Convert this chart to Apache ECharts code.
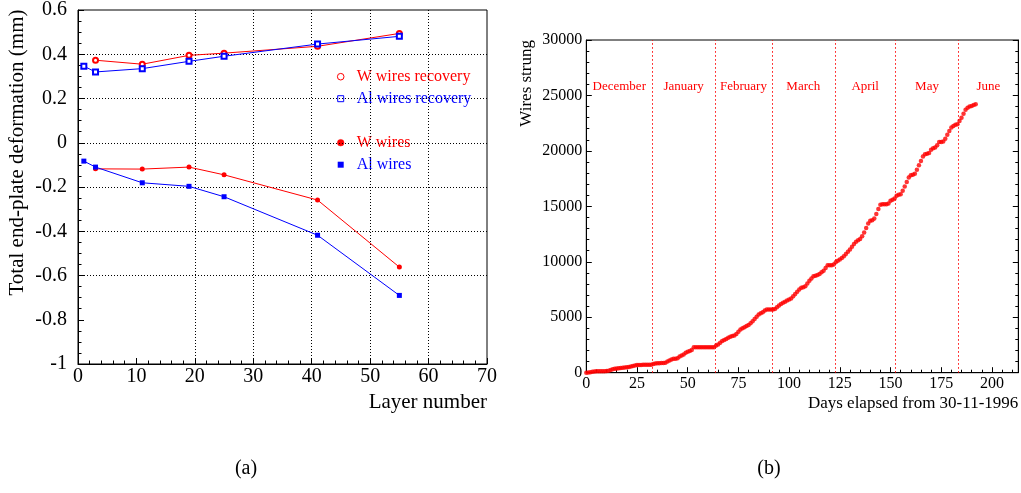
<!DOCTYPE html>
<html>
<head>
<meta charset="utf-8">
<script src="https://cdn.jsdelivr.net/npm/echarts@6/dist/echarts.min.js"></script>
<style>
html,body{margin:0;padding:0;background:#fff;}
#c{width:1021px;height:493px;}
</style>
</head>
<body>
<div id="c"></div>
<script>
// ---------- Panel (a) data ----------
const layersW = [3, 11, 19, 25, 41, 55];
const layersAl = [1, 3, 11, 19, 25, 41, 55];
const wRecovery = [0.373, 0.355, 0.395, 0.405, 0.436, 0.494];
const alRecovery = [0.346, 0.320, 0.335, 0.368, 0.391, 0.446, 0.481];
const wWires = [-0.118, -0.119, -0.110, -0.145, -0.259, -0.562];
const alWires = [-0.083, -0.110, -0.181, -0.197, -0.244, -0.418, -0.690];
const legendNames = ['W wires recovery', 'Al wires recovery', 'W wires', 'Al wires'];

// ---------- Panel (b) data ----------
// cumulative wires strung, one value per day elapsed (day = index)
const wiresStrung = [
  0, 20, 50, 80, 100, 120, 130, 130, 130, 140,
  150, 180, 250, 300, 350, 380, 400, 420, 450, 480,
  500, 520, 560, 600, 650, 700, 700, 700, 710, 720,
  720, 720, 720, 780, 820, 850, 860, 870, 880, 900,
  1000, 1100, 1200, 1250, 1250, 1300, 1450, 1550, 1650, 1800,
  1900, 1950, 2050, 2300, 2300, 2300, 2300, 2300, 2300, 2300,
  2300, 2300, 2300, 2300, 2450, 2550, 2700, 2850, 2950, 3050,
  3150, 3250, 3300, 3350, 3500, 3700, 3900, 4000, 4100, 4200,
  4300, 4450, 4650, 4850, 5050, 5250, 5350, 5450, 5600, 5700,
  5700, 5700, 5700, 5750, 5900, 6050, 6200, 6300, 6400, 6500,
  6600, 6700, 6900, 7100, 7300, 7500, 7650, 7700, 7800, 8050,
  8300, 8500, 8700, 8750, 8800, 8900, 9050, 9200, 9450, 9700,
  9700, 9700, 9750, 9950, 10100, 10200, 10350, 10500, 10700, 10900,
  11100, 11350, 11600, 11800, 11950, 12050, 12300, 12650, 13050, 13450,
  13700, 13750, 13900, 14300, 14750, 15150, 15200, 15200, 15200, 15250,
  15500, 15600, 15700, 15950, 16050, 16100, 16400, 16800, 17200, 17600,
  17800, 17850, 17950, 18300, 18700, 19100, 19500, 19700, 19750, 19800,
  20100, 20250, 20300, 20500, 20800, 20800, 20850, 21100, 21450, 21800,
  22100, 22250, 22350, 22400, 22700, 23000, 23350, 23700, 23900, 24000,
  24050, 24150, 24200
];
const monthNames = ['December', 'January', 'February', 'March', 'April', 'May', 'June'];
const monthBounds = [0, 32.5, 63.5, 91.5, 122.5, 152.5, 183.5, 213];

const FONT = "'Liberation Serif', 'DejaVu Serif', serif";
const RED = '#ff0000';
const BLUE = '#0000ff';
const NONE = 'rgba(0,0,0,0)';

const zip = (xs, ys) => xs.map((x, i) => [x, ys[i]]);

function axisCommon(fs) {
  return {
    axisLine: { show: true, onZero: false, lineStyle: { color: '#000', width: 1 } },
    axisTick: { show: true, inside: true, length: 6, lineStyle: { color: '#000', width: 1 } },
    minorTick: { show: true, length: 3.5, lineStyle: { color: '#000', width: 1 } },
    axisLabel: { color: '#000', fontFamily: FONT, fontSize: fs }
  };
}

// dotted grid lines, hiding the first and last (they sit on the frame)
function gridDots(n) {
  const cols = [];
  for (let i = 0; i < n; i++) cols.push(i === 0 || i === n - 1 ? NONE : '#000');
  return { show: true, showMinLine: false, showMaxLine: false, lineStyle: { type: [1, 2], color: cols, width: 1 } };
}

const chart = echarts.init(document.getElementById('c'), null, { renderer: 'canvas' });

const gx0 = 78, gy0 = 9.5, gw0 = 409, gh0 = 354.5;
const gx1 = 586.3, gy1 = 40, gw1 = 432, gh1 = 332.7;

function lineSeries(name, xs, ys, color, symbol, size) {
  return {
    name: name, type: 'line', xAxisIndex: 0, yAxisIndex: 0,
    data: zip(xs, ys), symbol: symbol, symbolSize: size,
    itemStyle: { color: color, borderWidth: 1 },
    lineStyle: { color: color, width: 1 },
    animation: false
  };
}

const option = {
  animation: false,
  backgroundColor: '#fff',
  grid: [
    { left: gx0, top: gy0, width: gw0, height: gh0, show: true, borderColor: '#000', borderWidth: 1, backgroundColor: 'transparent', containLabel: false },
    { left: gx1, top: gy1, width: gw1, height: gh1, show: true, borderColor: '#000', borderWidth: 1, backgroundColor: 'transparent', containLabel: false }
  ],
  xAxis: [
    Object.assign(axisCommon(20), {
      type: 'value', gridIndex: 0, min: 0, max: 70, interval: 10,
      splitLine: gridDots(8),
      minorTick: { show: true, splitNumber: 5, length: 3.5, lineStyle: { color: '#000' } },
      axisLabel: { color: '#000', fontFamily: FONT, fontSize: 20, margin: 3 }
    }),
    Object.assign(axisCommon(16), {
      type: 'value', gridIndex: 1, min: 0, max: 213, interval: 25,
      splitLine: { show: false },
      minorTick: { show: true, splitNumber: 5, length: 3, lineStyle: { color: '#000' } },
      axisTick: { show: true, inside: true, length: 5.5, lineStyle: { color: '#000' } },
      axisLabel: { color: '#000', fontFamily: FONT, fontSize: 16, margin: 3, showMaxLabel: false }
    })
  ],
  yAxis: [
    Object.assign(axisCommon(20), {
      type: 'value', gridIndex: 0, min: -1, max: 0.6, interval: 0.2,
      splitLine: gridDots(9),
      minorTick: { show: true, splitNumber: 4, length: 3.5, lineStyle: { color: '#000' } },
      axisLabel: { color: '#000', fontFamily: FONT, fontSize: 20, margin: 11 }
    }),
    Object.assign(axisCommon(16), {
      type: 'value', gridIndex: 1, min: 0, max: 30000, interval: 5000,
      splitLine: { show: false },
      minorTick: { show: true, splitNumber: 5, length: 3, lineStyle: { color: '#000' } },
      axisTick: { show: true, inside: true, length: 5.5, lineStyle: { color: '#000' } },
      axisLabel: { color: '#000', fontFamily: FONT, fontSize: 16, margin: 4, formatter: v => String(v) }
    }),
    Object.assign(axisCommon(16), {
      type: 'value', gridIndex: 1, position: 'right', min: 0, max: 30000, interval: 5000,
      splitLine: { show: false },
      minorTick: { show: true, splitNumber: 5, length: 3, lineStyle: { color: '#000' } },
      axisTick: { show: true, inside: true, length: 5.5, lineStyle: { color: '#000' } },
      axisLabel: { show: false }
    })
  ],
  series: [
    lineSeries(legendNames[0], layersW, wRecovery, RED, 'emptyCircle', 5),
    lineSeries(legendNames[1], layersAl, alRecovery, BLUE, 'emptyRect', 5),
    lineSeries(legendNames[2], layersW, wWires, RED, 'circle', 5),
    lineSeries(legendNames[3], layersAl, alWires, BLUE, 'rect', 5),
    {
      name: 'Wires strung', type: 'scatter', xAxisIndex: 1, yAxisIndex: 1,
      data: wiresStrung.map((v, d) => [d, v]),
      symbol: 'circle', symbolSize: 4.5,
      itemStyle: { color: RED },
      animation: false,
      markLine: {
        silent: true, symbol: ['none', 'none'], animation: false,
        label: { show: false },
        lineStyle: { color: RED, type: [1.5, 2.5], width: 1 },
        data: monthBounds.slice(1, -1).map(b => ({ xAxis: b }))
      },
      markArea: {
        silent: true, animation: false,
        itemStyle: { color: NONE },
        label: { show: true, position: 'insideTop', distance: 40, color: RED, fontFamily: FONT, fontSize: 13 },
        data: monthNames.map((m, i) => [
          { name: m, xAxis: monthBounds[i], yAxis: 0 },
          { xAxis: monthBounds[i + 1], yAxis: 30000 }
        ])
      }
    }
  ],
  graphic: [
    // panel (a) axis titles
    { type: 'text', x: 17, y: 9.5, rotation: Math.PI / 2,
      style: { text: 'Total end-plate deformation (mm)', fill: '#000', font: '21px ' + FONT, align: 'right', verticalAlign: 'middle' } },
    { type: 'text', x: 487, y: 402,
      style: { text: 'Layer number', fill: '#000', font: '21px ' + FONT, align: 'right', verticalAlign: 'middle' } },
    // panel (a) legend
    { type: 'circle', shape: { cx: 340.7, cy: 76.7, r: 3.3 }, style: { fill: 'none', stroke: RED, lineWidth: 1 } },
    { type: 'text', x: 356.7, y: 76.7, style: { text: legendNames[0], fill: RED, font: '16px ' + FONT, align: 'left', verticalAlign: 'middle' } },
    { type: 'rect', shape: { x: 337.7, y: 95.7, width: 6, height: 6 }, style: { fill: 'none', stroke: BLUE, lineWidth: 1 } },
    { type: 'text', x: 356.7, y: 98.7, style: { text: legendNames[1], fill: BLUE, font: '16px ' + FONT, align: 'left', verticalAlign: 'middle' } },
    { type: 'circle', shape: { cx: 340.7, cy: 142.7, r: 3.3 }, style: { fill: RED, stroke: RED, lineWidth: 0.5 } },
    { type: 'text', x: 356.7, y: 142.7, style: { text: legendNames[2], fill: RED, font: '16px ' + FONT, align: 'left', verticalAlign: 'middle' } },
    { type: 'rect', shape: { x: 337.7, y: 161.7, width: 6, height: 6 }, style: { fill: BLUE } },
    { type: 'text', x: 356.7, y: 164.7, style: { text: legendNames[3], fill: BLUE, font: '16px ' + FONT, align: 'left', verticalAlign: 'middle' } },
    // panel (b) axis titles
    { type: 'text', x: 526.5, y: 40, rotation: Math.PI / 2,
      style: { text: 'Wires strung', fill: '#000', font: '17px ' + FONT, align: 'right', verticalAlign: 'middle' } },
    { type: 'text', x: 1018.3, y: 403.5,
      style: { text: 'Days elapsed from 30-11-1996', fill: '#000', font: '17px ' + FONT, align: 'right', verticalAlign: 'middle' } },
    // panel captions
    { type: 'text', x: 246, y: 469, style: { text: '(a)', fill: '#000', font: '20px ' + FONT, align: 'center', verticalAlign: 'middle' } },
    { type: 'text', x: 769, y: 469, style: { text: '(b)', fill: '#000', font: '20px ' + FONT, align: 'center', verticalAlign: 'middle' } }
  ]
};

chart.setOption(option);
</script>
</body>
</html>
